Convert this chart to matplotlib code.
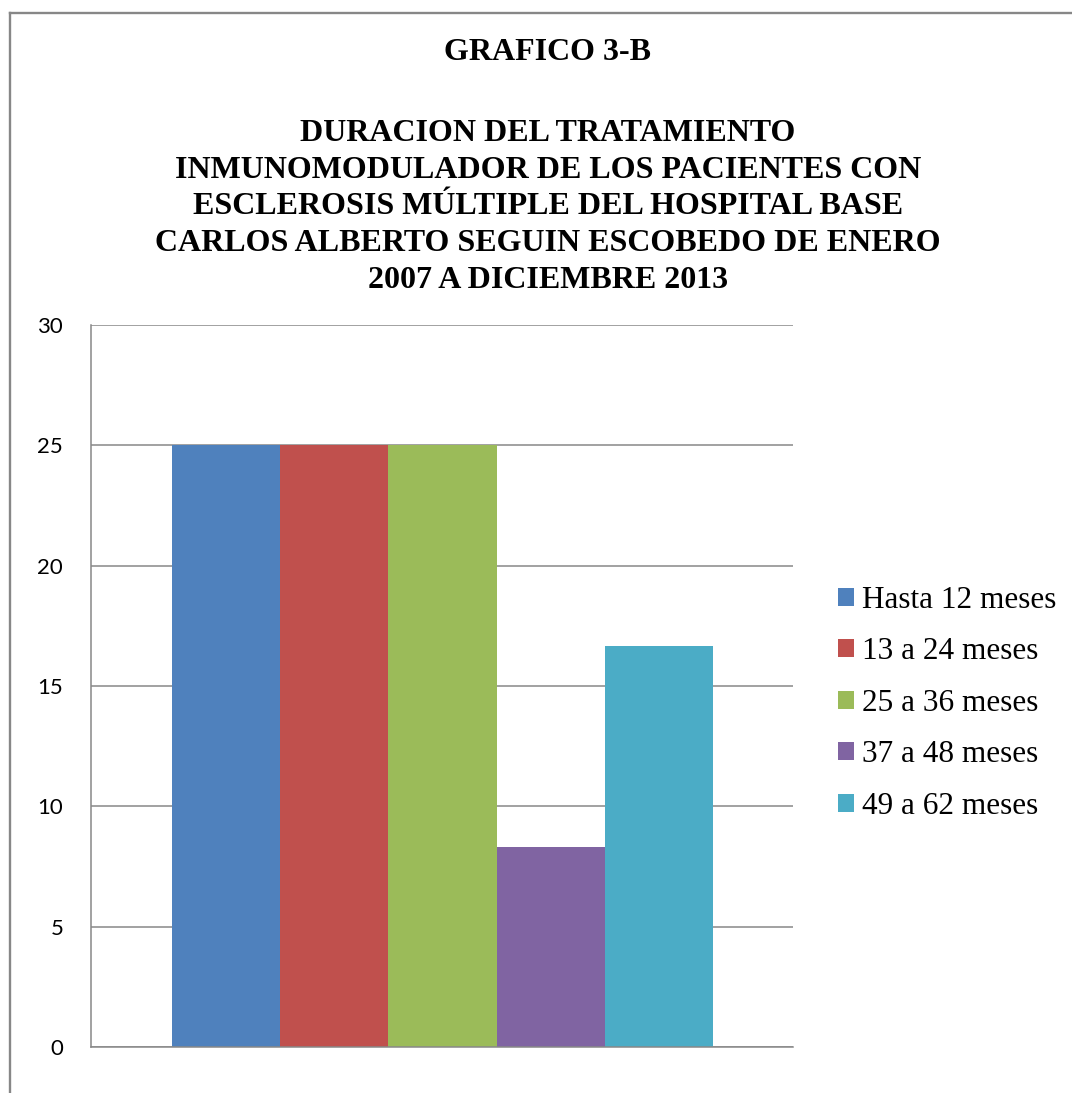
import matplotlib.pyplot as plt
from matplotlib.lines import Line2D

# Duración del tratamiento inmunomodulador (porcentaje de pacientes)
categorias = ['Hasta 12 meses', '13 a 24 meses', '25 a 36 meses',
              '37 a 48 meses', '49 a 62 meses']
valores = [25, 25, 25, 8.33, 16.67]
colores = ['#4F81BD', '#C0504D', '#9BBB59', '#8064A2', '#4BACC6']
y_ticks = [0, 5, 10, 15, 20, 25, 30]

titulo = ('DURACION DEL TRATAMIENTO\n'
          'INMUNOMODULADOR DE LOS PACIENTES CON\n'
          'ESCLEROSIS MÚLTIPLE DEL HOSPITAL BASE\n'
          'CARLOS ALBERTO SEGUIN ESCOBEDO DE ENERO\n'
          '2007 A DICIEMBRE 2013')

W, H = 1072, 1093
fig = plt.figure(figsize=(W / 100, H / 100), dpi=100)
fig.patch.set_facecolor('white')

# plot area in pixels: x 91..793, y 325..1047
ax = fig.add_axes([91 / W, (H - 1047) / H, (793 - 91) / W, (1047 - 325) / H])

for i, (cat, val, col) in enumerate(zip(categorias, valores, colores)):
    ax.bar(i, val, width=1.0, color=col, label=cat, zorder=2)

ax.set_xlim(-1.248, 5.239)
ax.set_ylim(0, 30)
ax.set_yticks(y_ticks)
ax.set_xticks([])
ax.set_axisbelow(True)
ax.yaxis.grid(True, color='#888888', linewidth=1.1)
ax.tick_params(axis='y', length=0, pad=20, labelsize=16)
for lab in ax.get_yticklabels():
    lab.set_fontfamily('Lato')
for s in ['top', 'right']:
    ax.spines[s].set_visible(False)
for s in ['left', 'bottom']:
    ax.spines[s].set_color('#888888')
    ax.spines[s].set_linewidth(1.1)

ax.legend(loc='center left', bbox_to_anchor=(1.064, 0.476), frameon=False,
          prop={'family': 'Liberation Serif', 'size': 22.5},
          handlelength=0.52, handleheight=0.52, handletextpad=0.25,
          labelspacing=0.72, borderpad=0, borderaxespad=0)

fig.text(548 / W, 1 - 53 / H, 'GRAFICO 3-B', ha='center', va='center',
         family='Liberation Serif', weight='bold', fontsize=23)
fig.text(548 / W, 1 - 207 / H, titulo, ha='center', va='center',
         family='Liberation Serif', weight='bold', fontsize=23,
         linespacing=1.36)

# outer frame (only top and left edges fall inside the image)
fig.add_artist(Line2D([10 / W, 10 / W], [1 - 13 / H, 0], color='#878787',
                      linewidth=1.7, transform=fig.transFigure))
fig.add_artist(Line2D([10 / W, 1], [1 - 13 / H, 1 - 13 / H], color='#878787',
                      linewidth=1.7, transform=fig.transFigure))

fig.savefig('out.png', dpi=100)
